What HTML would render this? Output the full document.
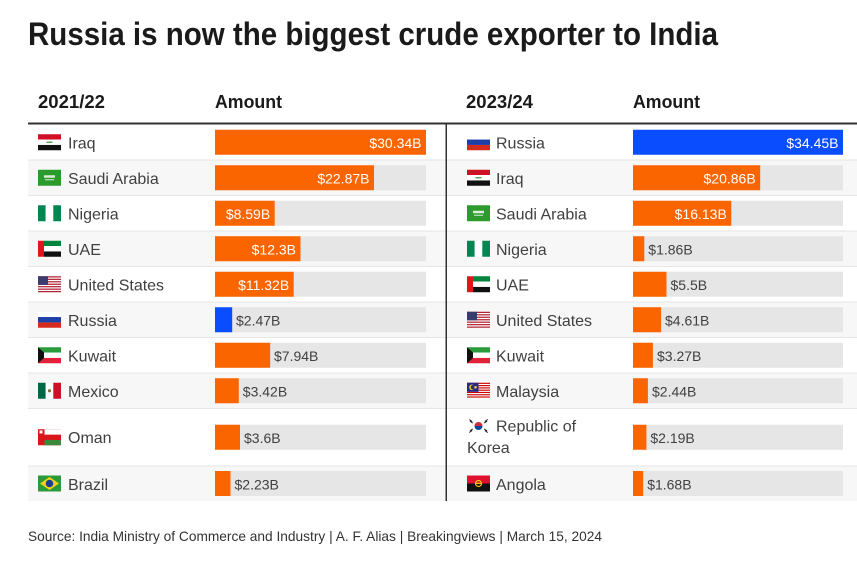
<!DOCTYPE html>
<html><head><meta charset="utf-8"><style>
html,body{margin:0;padding:0;background:#fff;}
svg{display:block;}
text{font-family:"Liberation Sans",Arial,sans-serif;}
.nm{font-size:16px;fill:#404040;}
.hd{font-size:18px;font-weight:bold;fill:#1a1a1a;}
.li{font-size:14px;fill:#fff;text-anchor:end;}
.lo{font-size:14px;fill:#404040;}
</style></head><body>
<svg width="857" height="572" viewBox="0 0 857 572" xmlns="http://www.w3.org/2000/svg">
<defs>
<g id="f-iraq"><rect width="23" height="5.4" fill="#ce1126"/><rect y="5.3" width="23" height="5.4" fill="#fff"/><rect y="10.7" width="23" height="5.3" fill="#111"/><rect x="8.5" y="7.4" width="6" height="1.2" fill="#3a8a3a"/></g>
<g id="f-saudi"><rect width="23" height="16" fill="#2c9a2c"/><rect x="6" y="5.5" width="11" height="2.5" fill="#d9eed9"/><rect x="7" y="9.5" width="9" height="1" fill="#d9eed9"/></g>
<g id="f-nigeria"><rect width="7.7" height="16" fill="#008751"/><rect x="7.7" width="7.6" height="16" fill="#fff"/><rect x="15.3" width="7.7" height="16" fill="#008751"/></g>
<g id="f-uae"><rect x="6" width="17" height="5.4" fill="#00843d"/><rect x="6" y="5.3" width="17" height="5.4" fill="#fff"/><rect x="6" y="10.7" width="17" height="5.3" fill="#111"/><rect width="6" height="16" fill="#e0161b"/></g>
<g id="f-us"><rect width="23" height="16" fill="#fff"/><rect y="0" width="23" height="1.23" fill="#b22234"/><rect y="2.46" width="23" height="1.23" fill="#b22234"/><rect y="4.92" width="23" height="1.23" fill="#b22234"/><rect y="7.38" width="23" height="1.23" fill="#b22234"/><rect y="9.84" width="23" height="1.23" fill="#b22234"/><rect y="12.3" width="23" height="1.23" fill="#b22234"/><rect y="14.77" width="23" height="1.23" fill="#b22234"/><rect width="10" height="8.6" fill="#3c3b6e"/></g>
<g id="f-russia"><rect width="23" height="5.4" fill="#fff"/><rect y="5.3" width="23" height="5.4" fill="#1d3fa8"/><rect y="10.7" width="23" height="5.3" fill="#d52b1e"/></g>
<g id="f-kuwait"><rect width="23" height="5.4" fill="#2a9a3a"/><rect y="5.3" width="23" height="5.4" fill="#fff"/><rect y="10.7" width="23" height="5.3" fill="#e0213a"/><polygon points="0,0 6,5.3 6,10.7 0,16" fill="#111"/></g>
<g id="f-mexico"><rect width="7.7" height="16" fill="#006847"/><rect x="7.7" width="7.6" height="16" fill="#fff"/><rect x="15.3" width="7.7" height="16" fill="#ce1126"/><circle cx="11.5" cy="8" r="1.6" fill="#8a6a3a"/></g>
<g id="f-oman"><rect width="23" height="16" fill="#db161b"/><rect x="6.5" width="16.5" height="5.4" fill="#fff"/><rect x="6.5" y="10.7" width="16.5" height="5.3" fill="#3a8a3a"/><rect x="1.5" y="1.2" width="3" height="3" fill="#fff"/></g>
<g id="f-brazil"><rect width="23" height="16" fill="#2a9a3a"/><polygon points="2,8 11.5,1.5 21,8 11.5,14.5" fill="#f4d21b"/><circle cx="11.5" cy="8" r="3.8" fill="#1c3f8f"/></g>
<g id="f-malaysia"><rect width="23" height="16" fill="#fff"/><rect y="0" width="23" height="1.14" fill="#cc0001"/><rect y="2.28" width="23" height="1.14" fill="#cc0001"/><rect y="4.57" width="23" height="1.14" fill="#cc0001"/><rect y="6.86" width="23" height="1.14" fill="#cc0001"/><rect y="9.14" width="23" height="1.14" fill="#cc0001"/><rect y="11.43" width="23" height="1.14" fill="#cc0001"/><rect y="13.71" width="23" height="1.14" fill="#cc0001"/><rect width="11.5" height="9.1" fill="#2a2a8a"/><circle cx="5" cy="4.5" r="2.8" fill="#f5d21b"/><circle cx="6" cy="4.5" r="2.3" fill="#2a2a8a"/><circle cx="8.5" cy="4.5" r="1.3" fill="#f5d21b"/></g>
<g id="f-korea"><rect width="23" height="16" fill="#fff"/><path d="M7.5,8 A4,4 0 0 1 15.5,8 Z" fill="#cd2e3a"/><path d="M7.5,8 A4,4 0 0 0 15.5,8 Z" fill="#0047a0"/><rect x="2" y="2" width="3.5" height="1" fill="#222" transform="rotate(35 3.7 2.5)"/><rect x="17.5" y="2" width="3.5" height="1" fill="#222" transform="rotate(-35 19.2 2.5)"/><rect x="2" y="13" width="3.5" height="1" fill="#222" transform="rotate(-35 3.7 13.5)"/><rect x="17.5" y="13" width="3.5" height="1" fill="#222" transform="rotate(35 19.2 13.5)"/><rect x="2.6" y="3.6" width="3.5" height="1" fill="#222" transform="rotate(35 4.3 4.1)"/><rect x="16.9" y="3.6" width="3.5" height="1" fill="#222" transform="rotate(-35 18.6 4.1)"/><rect x="2.6" y="11.4" width="3.5" height="1" fill="#222" transform="rotate(-35 4.3 11.9)"/><rect x="16.9" y="11.4" width="3.5" height="1" fill="#222" transform="rotate(35 18.6 11.9)"/></g>
<g id="f-angola"><rect width="23" height="8" fill="#e0102f"/><rect y="8" width="23" height="8" fill="#111"/><circle cx="11.5" cy="8" r="3" fill="none" stroke="#f4c51b" stroke-width="1.2"/><rect x="9" y="7.3" width="5" height="1.2" fill="#f4c51b"/></g>
</defs>

<!-- Title -->
<text x="28" y="45" font-size="32" font-weight="bold" fill="#1a1a1a" textLength="690" lengthAdjust="spacingAndGlyphs">Russia is now the biggest crude exporter to India</text>

<!-- Headers -->
<text class="hd" x="38" y="108" textLength="67" lengthAdjust="spacingAndGlyphs">2021/22</text>
<text class="hd" x="215" y="108" textLength="67" lengthAdjust="spacingAndGlyphs">Amount</text>
<text class="hd" x="466" y="108" textLength="67" lengthAdjust="spacingAndGlyphs">2023/24</text>
<text class="hd" x="633" y="108" textLength="67" lengthAdjust="spacingAndGlyphs">Amount</text>

<!-- Row backgrounds -->
<g fill="#f7f7f7">
<rect x="28" y="160" width="829" height="35.5"/>
<rect x="28" y="231" width="829" height="35.5"/>
<rect x="28" y="302" width="829" height="35.5"/>
<rect x="28" y="373" width="829" height="35.5"/>
<rect x="28" y="466" width="829" height="35"/>
</g>
<g fill="#e6e6e6">
<rect x="28" y="159.5" width="829" height="1"/>
<rect x="28" y="195" width="829" height="1"/>
<rect x="28" y="230.5" width="829" height="1"/>
<rect x="28" y="266" width="829" height="1"/>
<rect x="28" y="301.5" width="829" height="1"/>
<rect x="28" y="337" width="829" height="1"/>
<rect x="28" y="372.5" width="829" height="1"/>
<rect x="28" y="408" width="829" height="1"/>
<rect x="28" y="465.5" width="829" height="1"/>
</g>

<!-- Header line & divider -->
<rect x="28" y="122.5" width="829" height="2" fill="#333"/>
<rect x="445.5" y="124.5" width="1.5" height="376.5" fill="#333"/>

<!-- Tracks -->
<g fill="#e6e6e6">
<rect x="215" y="129.75" width="211" height="25"/>
<rect x="215" y="165.25" width="211" height="25"/>
<rect x="215" y="200.75" width="211" height="25"/>
<rect x="215" y="236.25" width="211" height="25"/>
<rect x="215" y="271.75" width="211" height="25"/>
<rect x="215" y="307.25" width="211" height="25"/>
<rect x="215" y="342.75" width="211" height="25"/>
<rect x="215" y="378.25" width="211" height="25"/>
<rect x="215" y="424.75" width="211" height="25"/>
<rect x="215" y="471" width="211" height="25"/>
<rect x="633" y="129.75" width="210" height="25"/>
<rect x="633" y="165.25" width="210" height="25"/>
<rect x="633" y="200.75" width="210" height="25"/>
<rect x="633" y="236.25" width="210" height="25"/>
<rect x="633" y="271.75" width="210" height="25"/>
<rect x="633" y="307.25" width="210" height="25"/>
<rect x="633" y="342.75" width="210" height="25"/>
<rect x="633" y="378.25" width="210" height="25"/>
<rect x="633" y="424.75" width="210" height="25"/>
<rect x="633" y="471" width="210" height="25"/>
</g>

<!-- Left bars -->
<g fill="#fb6500">
<rect x="215" y="129.75" width="211" height="25"/>
<rect x="215" y="165.25" width="159" height="25"/>
<rect x="215" y="200.75" width="59.7" height="25"/>
<rect x="215" y="236.25" width="85.5" height="25"/>
<rect x="215" y="271.75" width="78.7" height="25"/>
<rect x="215" y="342.75" width="55.2" height="25"/>
<rect x="215" y="378.25" width="23.8" height="25"/>
<rect x="215" y="424.75" width="25" height="25"/>
<rect x="215" y="471" width="15.5" height="25"/>
</g>
<rect x="215" y="307.25" width="17.2" height="25" fill="#0a4dff"/>

<!-- Right bars -->
<rect x="633" y="129.75" width="210" height="25" fill="#0a4dff"/>
<g fill="#fb6500">
<rect x="633" y="165.25" width="127.2" height="25"/>
<rect x="633" y="200.75" width="98.3" height="25"/>
<rect x="633" y="236.25" width="11.3" height="25"/>
<rect x="633" y="271.75" width="33.5" height="25"/>
<rect x="633" y="307.25" width="28.1" height="25"/>
<rect x="633" y="342.75" width="19.9" height="25"/>
<rect x="633" y="378.25" width="14.9" height="25"/>
<rect x="633" y="424.75" width="13.4" height="25"/>
<rect x="633" y="471" width="10.2" height="25"/>
</g>

<!-- Left labels -->
<text class="li" x="421.5" y="148">$30.34B</text>
<text class="li" x="369.5" y="183.5">$22.87B</text>
<text class="li" x="270.2" y="219">$8.59B</text>
<text class="li" x="296" y="254.5">$12.3B</text>
<text class="li" x="289.2" y="290">$11.32B</text>
<text class="lo" x="236" y="325.5">$2.47B</text>
<text class="lo" x="274" y="361">$7.94B</text>
<text class="lo" x="242.8" y="396.5">$3.42B</text>
<text class="lo" x="244" y="443">$3.6B</text>
<text class="lo" x="234.5" y="489.5">$2.23B</text>

<!-- Right labels -->
<text class="li" x="838.5" y="148">$34.45B</text>
<text class="li" x="755.7" y="183.5">$20.86B</text>
<text class="li" x="726.8" y="219">$16.13B</text>
<text class="lo" x="648.3" y="254.5">$1.86B</text>
<text class="lo" x="670.5" y="290">$5.5B</text>
<text class="lo" x="665" y="325.5">$4.61B</text>
<text class="lo" x="657" y="361">$3.27B</text>
<text class="lo" x="652" y="396.5">$2.44B</text>
<text class="lo" x="650.4" y="443">$2.19B</text>
<text class="lo" x="647.2" y="489.5">$1.68B</text>

<!-- Left flags & names -->
<use href="#f-iraq" x="38" y="134.25"/><text class="nm" x="68" y="148.5">Iraq</text>
<use href="#f-saudi" x="38" y="169.75"/><text class="nm" x="68" y="184">Saudi Arabia</text>
<use href="#f-nigeria" x="38" y="205.25"/><text class="nm" x="68" y="219.5">Nigeria</text>
<use href="#f-uae" x="38" y="240.75"/><text class="nm" x="68" y="255">UAE</text>
<use href="#f-us" x="38" y="276.25"/><text class="nm" x="68" y="290.5">United States</text>
<use href="#f-russia" x="38" y="311.75"/><text class="nm" x="68" y="326">Russia</text>
<use href="#f-kuwait" x="38" y="347.25"/><text class="nm" x="68" y="361.5">Kuwait</text>
<use href="#f-mexico" x="38" y="382.75"/><text class="nm" x="68" y="397">Mexico</text>
<use href="#f-oman" x="38" y="429.25"/><text class="nm" x="68" y="443">Oman</text>
<use href="#f-brazil" x="38" y="475.5"/><text class="nm" x="68" y="490">Brazil</text>

<!-- Right flags & names -->
<use href="#f-russia" x="467" y="134.25"/><text class="nm" x="496" y="148.5">Russia</text>
<use href="#f-iraq" x="467" y="169.75"/><text class="nm" x="496" y="184">Iraq</text>
<use href="#f-saudi" x="467" y="205.25"/><text class="nm" x="496" y="219.5">Saudi Arabia</text>
<use href="#f-nigeria" x="467" y="240.75"/><text class="nm" x="496" y="255">Nigeria</text>
<use href="#f-uae" x="467" y="276.25"/><text class="nm" x="496" y="290.5">UAE</text>
<use href="#f-us" x="467" y="311.75"/><text class="nm" x="496" y="326">United States</text>
<use href="#f-kuwait" x="467" y="347.25"/><text class="nm" x="496" y="361.5">Kuwait</text>
<use href="#f-malaysia" x="467" y="382.75"/><text class="nm" x="496" y="397">Malaysia</text>
<use href="#f-korea" x="467" y="418"/><text class="nm" x="496" y="431.5">Republic of</text>
<text class="nm" x="467" y="453">Korea</text>
<use href="#f-angola" x="467" y="475.5"/><text class="nm" x="496" y="490">Angola</text>

<!-- Source -->
<text x="28" y="541" font-size="14" fill="#333" textLength="574" lengthAdjust="spacingAndGlyphs">Source: India Ministry of Commerce and Industry | A. F. Alias | Breakingviews | March 15, 2024</text>
</svg>
</body></html>
